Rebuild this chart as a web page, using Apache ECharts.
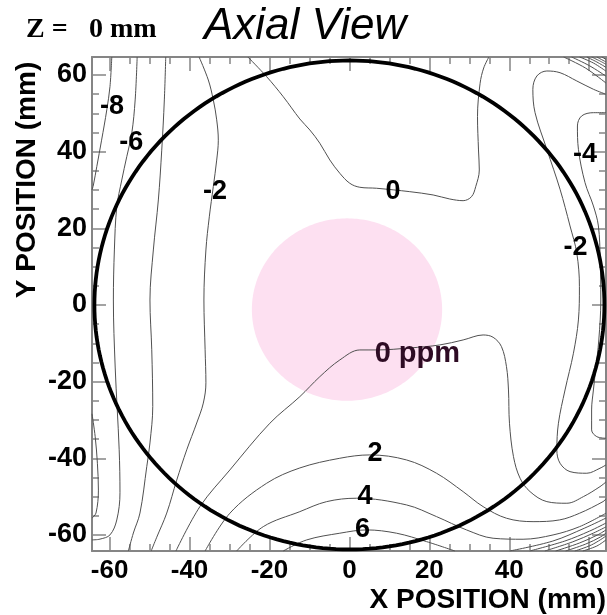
<!DOCTYPE html>
<html>
<head>
<meta charset="utf-8">
<script src="https://cdn.jsdelivr.net/npm/echarts@6.0.0/dist/echarts.min.js"></script>
<style>
html,body{margin:0;padding:0;background:#fff;}
#chart{width:607px;height:615px;}
</style>
</head>
<body>
<div id="chart"></div>
<script>
// ---- axis extents and ticks (mm) ----
const xRange = [-64.4, 64.2];
const yRange = [-64.2, 64.7];
const majorTicks = [-60, -40, -20, 0, 20, 40, 60];
const minorTicks = [-60, -55, -50, -45, -40, -35, -30, -25, -20, -15, -10, -5, 0, 5, 10, 15, 20, 25, 30, 35, 40, 45, 50, 55, 60];

// ---- geometry (mm) ----
const boreCircle = { cx: 0, cy: 0, r: 63.8 };
const sampleDisc = { cx: -0.6, cy: -1.2, r: 23.8 };

// ---- contour lines, [x mm, y mm] ----
const contourM8 = [[-59.45,64.7],[-59.9,57.0],[-60.7,50.9],[-62.0,43.0],[-63.2,36.1],[-64.05,31.3],[-64.4,30.0]];
const contourM8low = [[-64.4,-28.4],[-63.6,-34.4],[-63.05,-41.3],[-62.8,-48.3],[-63.4,-54.3],[-64.4,-55.6]];
const contourM6 = [[-53.1,64.7],[-53.6,53.5],[-54.45,44.8],[-55.7,38.7],[-56.95,32.6],[-58.2,25.6],[-58.8,14.35],[-59.05,1.3],[-58.6,-16.2],[-57.6,-37.8],[-57.4,-49.0],[-58.2,-56.1],[-59.9,-60.0],[-62.4,-61.1],[-64.4,-61.3]];
const contourM4left = [[-45.95,64.7],[-46.3,53.5],[-46.95,40.4],[-47.8,27.4],[-49.05,14.35],[-49.9,1.3],[-49.45,-11.7],[-49.2,-26.5],[-49.9,-36.0],[-50.7,-42.2],[-52.4,-54.3],[-54.05,-59.5],[-55.3,-64.2]];
const contourM2left = [[-37.6,64.7],[-35.3,58.7],[-34.05,53.5],[-33.2,48.3],[-32.8,43.0],[-33.2,37.8],[-34.05,30.9],[-35.05,23.0],[-35.9,14.35],[-36.4,1.3],[-36.1,-11.7],[-35.9,-20.3],[-36.55,-25.6],[-38.2,-30.8],[-40.7,-37.8],[-43.2,-45.7],[-45.7,-54.3],[-48.2,-60.6],[-49.6,-64.2]];
const contour0upper = [[-25.4,64.7],[-20.7,59.56],[-16.55,54.34],[-12.4,48.53],[-9.9,45.66],[-7.4,42.2],[-4.9,37.83],[-2.4,34.36],[0.1,31.75],[2.6,30.71],[6.8,30.45],[15.1,29.56],[20.95,28.7],[25.1,27.65],[28.45,27.21],[30.55,28.25],[31.6,30.86],[32.5,35.22],[32.3,40.44],[32.05,49.13],[32.7,57.84],[33.6,61.83],[34.9,64.7]];
const contour0lower = [[-43.4,-64.2],[-37.4,-52.62],[-29.9,-43.05],[-19.9,-30.86],[-12.4,-23.92],[-7.4,-18.71],[-2.4,-14.35],[2.6,-11.74],[6.8,-11.74],[15.1,-11.22],[22.6,-10.44],[28.45,-9.13],[33.45,-7.83],[35.95,-8.43],[38.05,-10.88],[39.3,-16.1],[39.8,-22.18],[40.05,-30.86],[41.05,-39.58],[42.7,-45.21],[45.2,-48.71],[49.4,-51.32],[54.4,-51.74],[58.55,-50.01],[62.7,-47.4],[64.2,-46.18]];
const contourP2 = [[-36.1,-64.2],[-29.9,-54.34],[-20.7,-46.52],[-12.4,-42.53],[-2.4,-40.0],[5.1,-39.13],[14.3,-40.44],[21.8,-43.91],[28.45,-48.71],[33.45,-52.62],[39.3,-55.65],[45.95,-56.54],[52.6,-56.09],[57.6,-54.34],[63.45,-51.32],[64.2,-50.61]];
const contourP4 = [[-28.2,-64.2],[-21.55,-57.84],[-12.4,-53.93],[-5.7,-51.32],[1.8,-50.43],[14.3,-52.18],[21.8,-55.23],[29.3,-58.7],[35.95,-60.87],[43.45,-61.13],[50.95,-60.01],[57.6,-57.84],[64.2,-54.34]];
const contourP6 = [[-16.55,-64.2],[-10.7,-61.31],[-2.4,-59.56],[4.3,-58.7],[11.8,-59.56],[19.3,-61.75],[26.4,-64.2]];
const contourM2right = [[64.2,54.97],[61.05,56.28],[56.9,58.44],[52.7,60.6],[49.4,61.05],[46.9,59.74],[45.9,56.28],[46.45,50.17],[49.4,40.62],[52.7,30.19],[55.2,20.61],[56.9,13.49],[57.55,4.77],[57.3,-3.91],[56.05,-12.6],[53.95,-22.18],[52.3,-30.86],[51.9,-37.83],[52.7,-41.3],[55.2,-43.49],[59.4,-43.91],[62.7,-42.6],[64.2,-41.74]];
const contourM4right = [[64.2,50.17],[61.05,50.17],[58.1,49.31],[57.05,46.7],[57.3,40.62],[58.95,31.91],[61.05,25.83],[62.3,20.61],[62.75,11.74],[62.9,1.3],[62.4,-9.13],[61.6,-16.96],[61.05,-22.18],[60.6,-27.4],[60.6,-32.61],[61.9,-34.36],[64.2,-34.78]];
// dense corner contours
const cornerTopRight = [
  [[53.6,64.7],[59.1,61.8],[64.2,57.9]],
  [[55.6,64.7],[60.1,62.4],[64.2,59.7]],
  [[57.6,64.7],[61.1,63.1],[64.2,61.0]],
  [[59.4,64.7],[61.9,63.4],[64.2,62.0]],
  [[60.6,64.7],[62.6,63.7],[64.2,62.8]],
  [[61.9,64.7],[64.2,63.4]],
  [[63.1,64.7],[64.2,64.1]]
];
const cornerBottomRight = [
  [[40.1,-64.2],[50.9,-61.6],[58.9,-58.2],[64.2,-55.6]],
  [[45.1,-64.2],[53.9,-61.6],[60.1,-59.0],[64.2,-56.9]],
  [[48.9,-64.2],[55.9,-61.8],[61.1,-59.5],[64.2,-57.9]],
  [[51.6,-64.2],[57.6,-62.1],[62.1,-60.0],[64.2,-58.7]],
  [[54.1,-64.2],[59.1,-62.4],[62.9,-60.5],[64.2,-59.5]],
  [[56.4,-64.2],[60.6,-62.6],[64.2,-60.3]],
  [[58.4,-64.2],[61.9,-62.9],[64.2,-61.3]]
];

// ---- contour labels ----
const labelTexts = ['-8', '-6', '-2', '0', '-4', '-2', '0 ppm', '2', '4', '6'];
const labelX = [-59.4, -54.6, -33.6, 10.9, 58.95, 56.6, 17.0, 6.4, 3.9, 3.25];
const labelY = [51.66, 42.5, 29.6, 29.5, 39.32, 14.87, -12.8, -38.87, -50.1, -58.7];

// ---------------- chart ----------------
const FONT = '"Liberation Sans", Arial, Helvetica, sans-serif';
const AXIS_COLOR = '#858585';
const LINE_COLOR = '#505050';

const contourLines = [contourM8, contourM8low, contourM6, contourM4left, contourM2left,
  contour0upper, contour0lower, contourP2, contourP4, contourP6, contourM2right, contourM4right]
  .concat(cornerTopRight, cornerBottomRight);

function circleRenderer(c, style) {
  return function (params, api) {
    const pts = [];
    const n = 240;
    for (let i = 0; i <= n; i++) {
      const t = i / n * 2 * Math.PI;
      pts.push(api.coord([c.cx + c.r * Math.cos(t), c.cy + c.r * Math.sin(t)]));
    }
    return { type: 'polygon', shape: { points: pts }, style: style };
  };
}

function makeX(pos, ticks, len, showLine, showLabel) {
  return {
    type: 'value', position: pos, min: xRange[0], max: xRange[1],
    axisLine: { show: showLine, onZero: false, lineStyle: { color: AXIS_COLOR, width: 2 } },
    axisTick: { show: true, inside: true, length: len, customValues: ticks, lineStyle: { color: AXIS_COLOR, width: 1.5 } },
    axisLabel: showLabel ? { show: true, customValues: majorTicks, margin: 7, color: '#000',
      fontFamily: FONT, fontWeight: 'bold', fontSize: 26 } : { show: false },
    splitLine: { show: false }
  };
}
function makeY(pos, ticks, len, showLine, showLabel) {
  return {
    type: 'value', position: pos, min: yRange[0], max: yRange[1],
    axisLine: { show: showLine, onZero: false, lineStyle: { color: AXIS_COLOR, width: 2 } },
    axisTick: { show: true, inside: true, length: len, customValues: ticks, lineStyle: { color: AXIS_COLOR, width: 1.5 } },
    axisLabel: showLabel ? { show: true, customValues: majorTicks, margin: 5, color: '#000',
      fontFamily: FONT, fontWeight: 'bold', fontSize: 27 } : { show: false },
    splitLine: { show: false }
  };
}

const series = [
  { type: 'custom', coordinateSystem: 'cartesian2d', xAxisIndex: 0, yAxisIndex: 0, z: 1, silent: true,
    data: [[sampleDisc.cx, sampleDisc.cy]],
    renderItem: circleRenderer(sampleDisc, { fill: '#fde0f1', stroke: null }) }
];
contourLines.forEach(pts => {
  series.push({ type: 'line', xAxisIndex: 0, yAxisIndex: 0, z: 2, data: pts, symbol: 'none',
    smooth: 0.35, silent: true, lineStyle: { color: LINE_COLOR, width: 1 } });
});
series.push({ type: 'custom', coordinateSystem: 'cartesian2d', xAxisIndex: 0, yAxisIndex: 0, z: 3, silent: true,
  data: [[boreCircle.cx, boreCircle.cy]],
  renderItem: circleRenderer(boreCircle, { fill: 'transparent', stroke: '#000', lineWidth: 3.8 }) });
// contour labels as text placed through the axes' coordinate conversion
series.push({ type: 'custom', coordinateSystem: 'cartesian2d', xAxisIndex: 0, yAxisIndex: 0, z: 4, silent: true,
  data: labelTexts.map((t, i) => [labelX[i], labelY[i]]),
  renderItem: function (params, api) {
    const i = params.dataIndex;
    const p = api.coord([api.value(0), api.value(1)]);
    const t = labelTexts[i];
    return { type: 'text', x: p[0], y: p[1],
      style: { text: t, fill: t === '0 ppm' ? '#2e0c24' : '#000',
        fontSize: t === '0 ppm' ? 29 : 27, fontWeight: 'bold', fontFamily: FONT,
        align: 'center', verticalAlign: 'middle' } };
  } });

const chart = echarts.init(document.getElementById('chart'), null, { renderer: 'canvas' });
chart.setOption({
  animation: false,
  backgroundColor: '#fff',
  grid: { left: 92, top: 57, width: 514, height: 494, containLabel: false },
  xAxis: [
    makeX('bottom', majorTicks, 14, true, true),
    makeX('bottom', minorTicks, 7, false, false),
    makeX('top', majorTicks, 14, true, false),
    makeX('top', minorTicks, 7, false, false)
  ],
  yAxis: [
    makeY('left', majorTicks, 14, true, true),
    makeY('left', minorTicks, 7, false, false),
    makeY('right', majorTicks, 14, true, false),
    makeY('right', minorTicks, 7, false, false)
  ],
  graphic: [
    { type: 'text', x: 26, y: 30, silent: true,
      style: { text: 'Z =', font: 'bold 28px "Liberation Serif", "Times New Roman", serif', fill: '#000', textAlign: 'left', textVerticalAlign: 'middle' } },
    { type: 'text', x: 89, y: 30, silent: true,
      style: { text: '0 mm', font: 'bold 28px "Liberation Serif", "Times New Roman", serif', fill: '#000', textAlign: 'left', textVerticalAlign: 'middle' } },
    { type: 'text', x: 204, y: 27, silent: true,
      style: { text: 'Axial View', font: 'italic 44px "Liberation Sans", Arial, sans-serif', fill: '#000', textAlign: 'left', textVerticalAlign: 'middle' } },
    { type: 'text', x: 27, y: 180, rotation: Math.PI / 2, silent: true,
      style: { text: 'Y POSITION (mm)', font: 'bold 28px ' + FONT, fill: '#000', textAlign: 'center', textVerticalAlign: 'middle' } },
    { type: 'text', x: 606, y: 600, silent: true,
      style: { text: 'X POSITION (mm)', font: 'bold 28px ' + FONT, fill: '#000', textAlign: 'right', textVerticalAlign: 'middle' } }
  ],
  series: series
});
</script>
</body>
</html>
